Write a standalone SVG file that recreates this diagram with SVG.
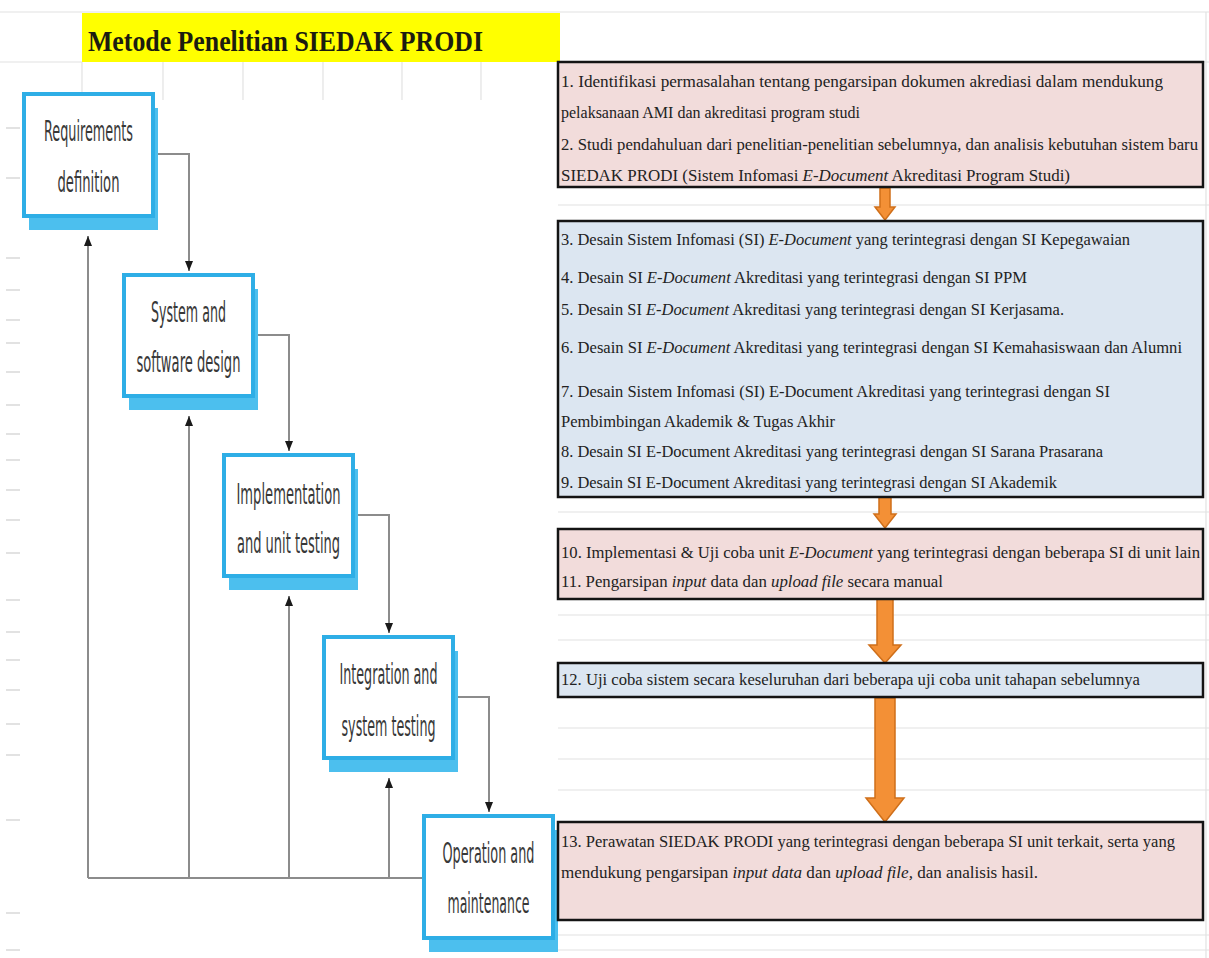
<svg xmlns="http://www.w3.org/2000/svg" width="1209" height="958" viewBox="0 0 1209 958">
<style>
.grid{stroke:#e2e2e2;stroke-width:1.2;fill:none}
.tick{stroke:#d8d8d8;stroke-width:1.5}
.shadow{fill:#4cbfee}
.wbox{fill:#ffffff;stroke:#2eaee6;stroke-width:4}
.wtxt{font-family:"Liberation Sans Narrow","DejaVu Sans Condensed","Liberation Sans",sans-serif;font-size:28px;fill:#383838;text-anchor:middle}
.conn{stroke:#8c8c8c;stroke-width:2;fill:none}
.pink{fill:#f2dcdb;stroke:#141414;stroke-width:2.5}
.blue{fill:#dce6f1;stroke:#141414;stroke-width:2.5}
.rtxt{font-family:"Liberation Serif","Times New Roman",serif;font-size:16px;fill:#222222}
.it{font-style:italic}
.orange{fill:#f39036;stroke:#cf6f1a;stroke-width:1.5}
.title{font-family:"Liberation Serif","Times New Roman",serif;font-weight:bold;font-size:30px;fill:#1c1c10}
</style>
<defs>
<marker id="ah" markerUnits="userSpaceOnUse" markerWidth="10" markerHeight="8" refX="10" refY="4" orient="auto">
<path d="M0,0 L10,4 L0,8 z" fill="#1a1a1a"/>
</marker>
</defs>
<rect x="0" y="0" width="1209" height="958" fill="#ffffff"/>
<g id="gridlines">
<line class="grid" x1="0" y1="12" x2="1209" y2="12"/>
<line class="grid" x1="0" y1="62" x2="82" y2="62"/>
<line class="grid" x1="560" y1="62" x2="1209" y2="62"/>
<line class="grid" x1="82" y1="62" x2="82" y2="100"/>
<line class="grid" x1="163" y1="62" x2="163" y2="100"/>
<line class="grid" x1="243" y1="62" x2="243" y2="100"/>
<line class="grid" x1="323" y1="62" x2="323" y2="100"/>
<line class="grid" x1="402" y1="62" x2="402" y2="100"/>
<line class="grid" x1="481" y1="62" x2="481" y2="100"/>
<line class="grid" x1="1206" y1="12" x2="1206" y2="958"/>
<line class="grid" x1="558" y1="205" x2="1209" y2="205"/>
<line class="grid" x1="558" y1="512" x2="1209" y2="512"/>
<line class="grid" x1="558" y1="615" x2="1209" y2="615"/>
<line class="grid" x1="558" y1="640" x2="1209" y2="640"/>
<line class="grid" x1="558" y1="728" x2="1209" y2="728"/>
<line class="grid" x1="558" y1="759" x2="1209" y2="759"/>
<line class="grid" x1="558" y1="790" x2="1209" y2="790"/>
<line class="grid" x1="558" y1="935" x2="1209" y2="935"/>
<line class="grid" x1="558" y1="950" x2="1209" y2="950"/>
<line class="tick" x1="6" y1="128" x2="20" y2="128"/>
<line class="tick" x1="6" y1="178" x2="20" y2="178"/>
<line class="tick" x1="6" y1="258" x2="20" y2="258"/>
<line class="tick" x1="6" y1="290" x2="20" y2="290"/>
<line class="tick" x1="6" y1="320" x2="20" y2="320"/>
<line class="tick" x1="6" y1="343" x2="20" y2="343"/>
<line class="tick" x1="6" y1="372" x2="20" y2="372"/>
<line class="tick" x1="6" y1="405" x2="20" y2="405"/>
<line class="tick" x1="6" y1="434" x2="20" y2="434"/>
<line class="tick" x1="6" y1="460" x2="20" y2="460"/>
<line class="tick" x1="6" y1="490" x2="20" y2="490"/>
<line class="tick" x1="6" y1="520" x2="20" y2="520"/>
<line class="tick" x1="6" y1="553" x2="20" y2="553"/>
<line class="tick" x1="6" y1="600" x2="20" y2="600"/>
<line class="tick" x1="6" y1="632" x2="20" y2="632"/>
<line class="tick" x1="6" y1="660" x2="20" y2="660"/>
<line class="tick" x1="6" y1="690" x2="20" y2="690"/>
<line class="tick" x1="6" y1="724" x2="20" y2="724"/>
<line class="tick" x1="6" y1="755" x2="20" y2="755"/>
<line class="tick" x1="6" y1="820" x2="20" y2="820"/>
<line class="tick" x1="6" y1="913" x2="20" y2="913"/>
<line class="tick" x1="6" y1="950" x2="20" y2="950"/>
</g>
<g id="title">
<rect x="82" y="13" width="478" height="49" fill="#ffff00"/>
<text class="title" x="88" y="51" textLength="395" lengthAdjust="spacingAndGlyphs">Metode Penelitian SIEDAK PRODI</text>
</g>
<g id="connectors">
<path class="conn" d="M153,154 H189 V271" marker-end="url(#ah)"/>
<path class="conn" d="M253,335 H289 V451" marker-end="url(#ah)"/>
<path class="conn" d="M353,515 H389 V633" marker-end="url(#ah)"/>
<path class="conn" d="M453,697 H489 V812" marker-end="url(#ah)"/>
<path class="conn" d="M424,878 H88"/>
<path class="conn" d="M88,878 V236" marker-end="url(#ah)"/>
<path class="conn" d="M189,878 V416" marker-end="url(#ah)"/>
<path class="conn" d="M289,878 V596" marker-end="url(#ah)"/>
<path class="conn" d="M389,878 V778" marker-end="url(#ah)"/>
<polygon class="orange" points="880,188 890,188 890,207 895,207 885,220 875,207 880,207"/>
<polygon class="orange" points="879,497 891,497 891,514 896,514 885,528 874,514 879,514"/>
<polygon class="orange" points="877,599 893,599 893,645 901,645 885,663 869,645 877,645"/>
<polygon class="orange" points="875,698 895,698 895,798 904,798 885,822 866,798 875,798"/>
</g>
<g id="req">
<rect class="shadow" x="29" y="108" width="129" height="122"/>
<rect class="wbox" x="24" y="94" width="129" height="122"/>
<text class="wtxt" x="88.5" y="141" textLength="89" lengthAdjust="spacingAndGlyphs">Requirements</text>
<text class="wtxt" x="88.5" y="192" textLength="62" lengthAdjust="spacingAndGlyphs">definition</text>
</g>
<g id="design">
<rect class="shadow" x="129" y="289" width="129" height="121"/>
<rect class="wbox" x="124" y="275" width="129" height="121"/>
<text class="wtxt" x="188.5" y="322" textLength="75" lengthAdjust="spacingAndGlyphs">System and</text>
<text class="wtxt" x="188.5" y="372" textLength="104" lengthAdjust="spacingAndGlyphs">software design</text>
</g>
<g id="impl">
<rect class="shadow" x="229" y="469" width="129" height="121"/>
<rect class="wbox" x="224" y="455" width="129" height="121"/>
<text class="wtxt" x="288.5" y="504" textLength="104" lengthAdjust="spacingAndGlyphs">Implementation</text>
<text class="wtxt" x="288.5" y="553" textLength="103" lengthAdjust="spacingAndGlyphs">and unit testing</text>
</g>
<g id="integ">
<rect class="shadow" x="329" y="651" width="129" height="121"/>
<rect class="wbox" x="324" y="637" width="129" height="121"/>
<text class="wtxt" x="388.5" y="684" textLength="98" lengthAdjust="spacingAndGlyphs">Integration and</text>
<text class="wtxt" x="388.5" y="736" textLength="94" lengthAdjust="spacingAndGlyphs">system testing</text>
</g>
<g id="oper">
<rect class="shadow" x="429" y="830" width="129" height="122"/>
<rect class="wbox" x="424" y="816" width="129" height="122"/>
<text class="wtxt" x="488.5" y="863" textLength="92" lengthAdjust="spacingAndGlyphs">Operation and</text>
<text class="wtxt" x="488.5" y="913" textLength="82" lengthAdjust="spacingAndGlyphs">maintenance</text>
</g>
<g id="step1-2">
<rect class="pink" x="558" y="62" width="645" height="125"/>
<text class="rtxt" x="561" y="87" textLength="602" lengthAdjust="spacingAndGlyphs">1. Identifikasi permasalahan tentang pengarsipan dokumen akrediasi dalam mendukung</text>
<text class="rtxt" x="561" y="118" textLength="299" lengthAdjust="spacingAndGlyphs">pelaksanaan AMI dan akreditasi program studi</text>
<text class="rtxt" x="561" y="150" textLength="637" lengthAdjust="spacingAndGlyphs">2. Studi pendahuluan dari penelitian-penelitian sebelumnya, dan analisis kebutuhan sistem baru</text>
<text class="rtxt" x="561" y="181" textLength="509" lengthAdjust="spacingAndGlyphs">SIEDAK PRODI (Sistem Infomasi <tspan class="it">E-Document</tspan>  Akreditasi Program Studi)</text>
</g>
<g id="step3-9">
<rect class="blue" x="558" y="221" width="645" height="276"/>
<text class="rtxt" x="561" y="245" textLength="569" lengthAdjust="spacingAndGlyphs">3. Desain Sistem Infomasi (SI) <tspan class="it">E-Document</tspan>  yang terintegrasi dengan SI Kepegawaian</text>
<text class="rtxt" x="561" y="283" textLength="466" lengthAdjust="spacingAndGlyphs">4. Desain SI <tspan class="it">E-Document</tspan>  Akreditasi yang terintegrasi dengan SI PPM</text>
<text class="rtxt" x="561" y="315" textLength="503" lengthAdjust="spacingAndGlyphs">5. Desain SI <tspan class="it">E-Document</tspan>  Akreditasi yang terintegrasi dengan SI Kerjasama.</text>
<text class="rtxt" x="561" y="353" textLength="621" lengthAdjust="spacingAndGlyphs">6. Desain SI <tspan class="it">E-Document</tspan>  Akreditasi yang terintegrasi dengan SI Kemahasiswaan dan Alumni</text>
<text class="rtxt" x="561" y="397" textLength="549" lengthAdjust="spacingAndGlyphs">7. Desain Sistem Infomasi (SI) E-Document Akreditasi yang terintegrasi dengan SI</text>
<text class="rtxt" x="561" y="427" textLength="274" lengthAdjust="spacingAndGlyphs">Pembimbingan Akademik &amp; Tugas Akhir</text>
<text class="rtxt" x="561" y="457" textLength="542" lengthAdjust="spacingAndGlyphs">8. Desain SI E-Document Akreditasi yang terintegrasi dengan SI Sarana Prasarana</text>
<text class="rtxt" x="561" y="488" textLength="496" lengthAdjust="spacingAndGlyphs">9. Desain SI E-Document Akreditasi yang terintegrasi dengan SI Akademik</text>
</g>
<g id="step10-11">
<rect class="pink" x="558" y="529" width="645" height="70"/>
<text class="rtxt" x="561" y="558" textLength="639" lengthAdjust="spacingAndGlyphs">10. Implementasi &amp; Uji coba unit <tspan class="it">E-Document</tspan>  yang terintegrasi dengan beberapa SI di unit lain</text>
<text class="rtxt" x="561" y="587" textLength="382" lengthAdjust="spacingAndGlyphs">11. Pengarsipan <tspan class="it">input</tspan>  data dan <tspan class="it">upload file</tspan>  secara manual</text>
</g>
<g id="step12">
<rect class="blue" x="558" y="663" width="645" height="34"/>
<text class="rtxt" x="561" y="685" textLength="579" lengthAdjust="spacingAndGlyphs">12. Uji coba sistem secara keseluruhan dari beberapa uji coba unit tahapan sebelumnya</text>
</g>
<g id="step13">
<rect class="pink" x="558" y="822" width="645" height="98"/>
<text class="rtxt" x="561" y="847" textLength="614" lengthAdjust="spacingAndGlyphs">13. Perawatan SIEDAK PRODI yang terintegrasi dengan beberapa SI unit terkait, serta yang</text>
<text class="rtxt" x="561" y="878" textLength="477" lengthAdjust="spacingAndGlyphs">mendukung pengarsipan <tspan class="it">input data</tspan>  dan <tspan class="it">upload file,</tspan>  dan analisis hasil.</text>
</g>
</svg>
